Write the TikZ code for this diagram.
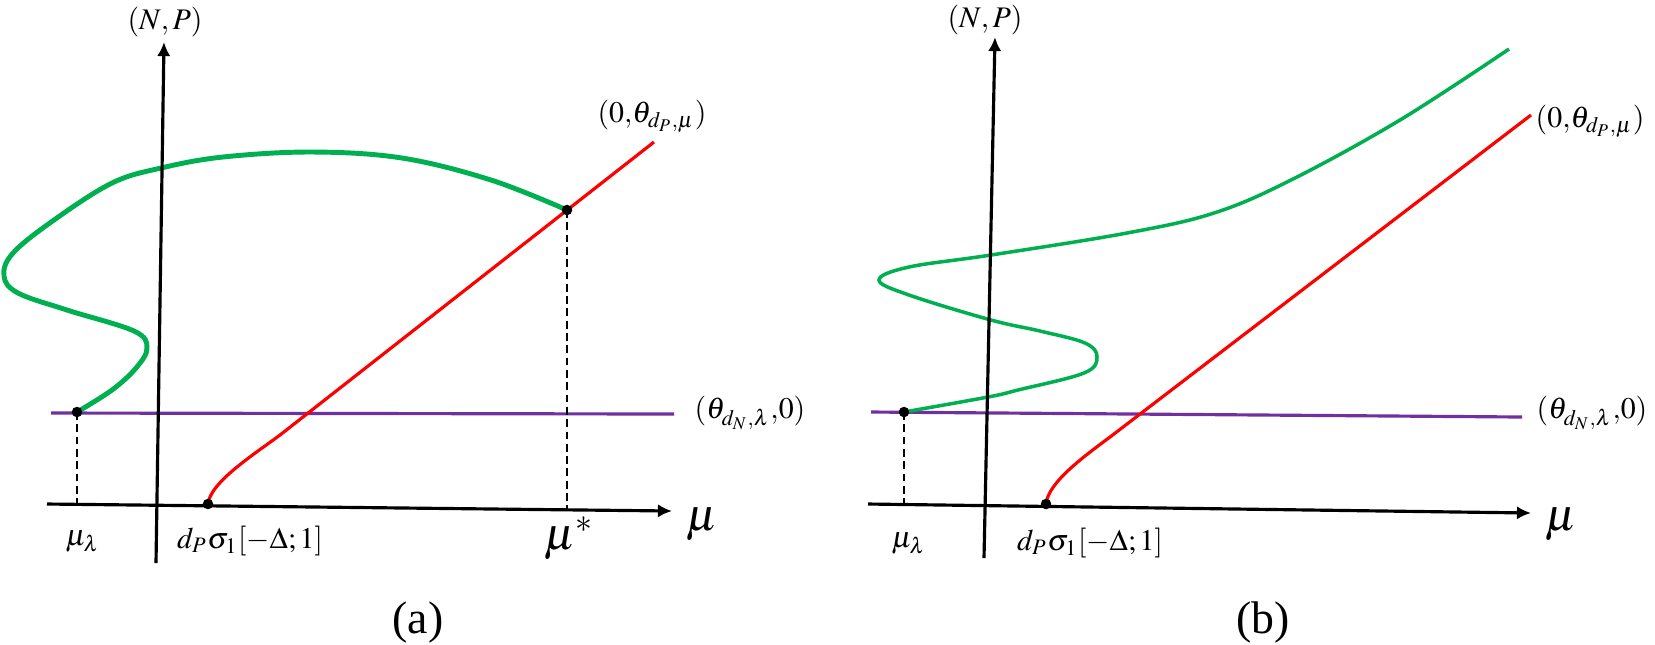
\documentclass[tikz,border=0pt]{standalone}
\usepackage{mathptmx}
\usepackage[no-math]{fontspec}
\setmainfont{Liberation Serif}
\usetikzlibrary{arrows.meta}
\definecolor{branchgreen}{RGB}{0,176,80}
\definecolor{levelpurple}{RGB}{112,48,160}
\tikzset{
    >={Latex[length=4pt,width=3.8pt]},
    axis/.style={draw, line width=0.9pt, ->},
    guide/.style={draw, line width=0.6pt, dash pattern=on 2.2pt off 1.3pt},
    level/.style={draw=levelpurple, line width=0.9pt},
    semitriv/.style={draw=red, line width=0.9pt},
    lbl/.style={font=\fontsize{8.5}{10}\selectfont, inner sep=0pt},
    biglbl/.style={font=\fontsize{13}{15}\selectfont, inner sep=0pt}
}
\begin{document}
\begin{tikzpicture}[x=0.01cm, y=-0.01cm,
            branch/.style={draw=branchgreen, line width=#1},
            branch/.default=1.4pt,
            dotmark/.style={fill=black}]
    \useasboundingbox (0,0) rectangle (1655,644);

    % panel (a)
    \coordinate (xa0) at (47,504);
    \coordinate (xa1) at (672,511);
    \coordinate (ya0) at (156,563);
    \coordinate (ya1) at (164,42);
    \coordinate (pa0) at (51,413);
    \coordinate (pa1) at (674,414);
    \coordinate (ra0) at (208,504);
    \coordinate (ra1) at (654,142);
    \coordinate (la) at (77,412);
    \coordinate (lfa) at (77,504);
    \coordinate (sa) at (567,210);
    \coordinate (sfa) at (567,510);

    \draw[level] (pa0) -- (pa1);
    \draw[semitriv] (ra0) .. controls (210,482) and (256,453) .. (280,435) -- (ra1);
    \draw[branch] plot[smooth, tension=0.6] coordinates {(77,412) (112,390) (136,368) (147,348)
        (134,331) (67,310) (18,293) (4,276) (13,253) (54,220) (112,183) (161,168)
        (223,157) (312,152) (402,158) (491,180) (567,210)};
    \draw[guide] (la) -- (lfa);
    \draw[guide] (sa) -- (sfa);
    \draw[axis] (xa0) -- (xa1);
    \draw[axis] (ya0) -- (ya1);
    \fill[dotmark] (la) circle[radius=1.5pt];
    \fill[dotmark] (ra0) circle[radius=1.5pt];
    \fill[dotmark] (sa) circle[radius=1.5pt];

    \node[lbl] (NPa) at (165,22) {$(N,P)$};
    \node[lbl] (theta Pa) at (652,116) {$(0,\!\theta_{d_P,\mu})$};
    \node[lbl, anchor=west] (theta Na) at (694,413) {$(\theta_{d_N,\lambda},\!0)$};
    \node[lbl] (mu lambda a) at (83,541) {$\mu_\lambda$};
    \node[lbl] (bif a) at (250,541) {$d_P\sigma_1[-\Delta;1]$};
    \node[biglbl] (mu star) at (569,538) {$\mu^*$};
    \node[biglbl] (mua) at (702,524) {$\mu$};
    \node[biglbl] (capa) at (418,622) {(a)};

    % panel (b)
    \coordinate (xb0) at (868,504);
    \coordinate (xb1) at (1531,513);
    \coordinate (yb0) at (984,558);
    \coordinate (yb1) at (995,37);
    \coordinate (pb0) at (871,412);
    \coordinate (pb1) at (1522,417);
    \coordinate (rb0) at (1046,504);
    \coordinate (rb1) at (1531,115);
    \coordinate (lb) at (904,412);
    \coordinate (lfb) at (904,504);

    \draw[level] (pb0) -- (pb1);
    \draw[semitriv] (rb0) .. controls (1048,482) and (1086,455) .. (1110,437) -- (rb1);
    \draw[branch=1pt] plot[smooth, tension=0.6] coordinates {(904,412) (988,397) (1018,390)
        (1084,373) (1097,357) (1085,343) (1040,331) (991,320) (909,295) (879,280)
        (909,267) (991,255) (1127,233) (1214,213) (1291,180) (1400,120) (1509,49)};
    \draw[guide] (lb) -- (lfb);
    \draw[axis] (xb0) -- (xb1);
    \draw[axis] (yb0) -- (yb1);
    \fill[dotmark] (lb) circle[radius=1.5pt];
    \fill[dotmark] (rb0) circle[radius=1.5pt];

    \node[lbl] (NPb) at (985,20) {$(N,P)$};
    \node[lbl, anchor=west] (theta Pb) at (1535,121) {$(0,\!\theta_{d_P,\mu})$};
    \node[lbl, anchor=east] (theta Nb) at (1648,413) {$(\theta_{d_N,\lambda},\!0)$};
    \node[lbl] (mu lambda b) at (909,543) {$\mu_\lambda$};
    \node[lbl] (bif b) at (1090,543) {$d_P\sigma_1[-\Delta;1]$};
    \node[biglbl] (mub) at (1561,524) {$\mu$};
    \node[biglbl] (capb) at (1263,622) {(b)};
\end{tikzpicture}
\end{document}
